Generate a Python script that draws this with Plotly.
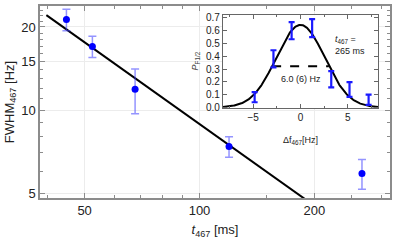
import numpy as np
import plotly.graph_objects as go

# ---- main panel data ----
t_ms = [44.8, 52.4, 67.8, 119.5, 266.5]
fwhm_hz = [21.3, 17.0, 11.9, 7.38, 5.90]
fwhm_err = [1.9, 1.5, 2.2, 0.63, 0.73]

# fitted line (end points)
line_t = [39.7, 190.0]
line_fwhm = [22.07, 4.74]

# ---- inset data ----
df_hz = [-4.85, -2.86, -0.94, 1.23, 3.25, 5.18, 7.2]
p_val = [0.08, 0.38, 0.60, 0.62, 0.22, 0.14, 0.06]
p_err = [0.04, 0.067, 0.067, 0.07, 0.064, 0.058, 0.04]

# Gaussian fit parameters
gauss_amp = 0.645
gauss_center = 0.0
gauss_fwhm = 6.0

x_curve = np.linspace(-8.2, 8.2, 300)
sigma = gauss_fwhm / (2 * np.sqrt(2 * np.log(2)))
y_curve = gauss_amp * np.exp(-(x_curve - gauss_center) ** 2 / (2 * sigma ** 2))

FONT = "Liberation Sans, Arial, sans-serif"
FRAME = "#8c8c8c"

fig = go.Figure()

fig.add_trace(go.Scatter(
    x=line_t, y=line_fwhm, mode="lines",
    line=dict(color="black", width=2), xaxis="x", yaxis="y", showlegend=False))

fig.add_trace(go.Scatter(
    x=t_ms, y=fwhm_hz, mode="markers",
    marker=dict(color="#0000ff", size=7),
    error_y=dict(type="data", array=fwhm_err, color="rgba(60,60,255,0.55)",
                 thickness=1.5, width=4),
    xaxis="x", yaxis="y", showlegend=False))

# inset
fig.add_trace(go.Scatter(
    x=x_curve, y=y_curve, mode="lines",
    line=dict(color="black", width=2), xaxis="x2", yaxis="y2", showlegend=False))

fig.add_trace(go.Scatter(
    x=[-gauss_fwhm / 2, gauss_fwhm / 2], y=[gauss_amp / 2, gauss_amp / 2],
    mode="lines", line=dict(color="black", width=2, dash="dash"),
    xaxis="x2", yaxis="y2", showlegend=False))

fig.add_trace(go.Scatter(
    x=df_hz, y=p_val, mode="markers",
    marker=dict(color="rgba(0,0,0,0)", size=1),
    error_y=dict(type="data", array=p_err, color="#1a1aff",
                 thickness=2.2, width=3),
    xaxis="x2", yaxis="y2", showlegend=False))

main_x_minor = [40, 60, 70, 80, 90, 150, 250, 300]
main_y_minor = [6, 7, 8, 9, 11, 12, 13, 14, 16, 17, 18, 19, 21, 22, 23]

fig.update_layout(
    width=395, height=240,
    margin=dict(l=40, r=3, t=3, b=42),
    paper_bgcolor="white", plot_bgcolor="white",
    font=dict(family=FONT, size=13, color="#222"),
    xaxis=dict(
        type="log", range=[np.log10(38.2), np.log10(315.6)],
        tickmode="array", tickvals=[50, 100, 200], ticktext=["50", "100", "200"],
        ticks="inside", ticklen=5, tickcolor=FRAME, tickwidth=1,
        minor=dict(tickmode="array", tickvals=main_x_minor, ticks="inside",
                   ticklen=3, tickcolor=FRAME, showgrid=False),
        showline=True, linecolor=FRAME, linewidth=1.5, mirror="ticks",
        showgrid=True, gridcolor="#ececec", gridwidth=1, zeroline=False,
        tickfont=dict(size=13),
        title=dict(text="<i>t</i><sub>467</sub> [ms]", font=dict(size=13), standoff=8),
    ),
    yaxis=dict(
        type="log", range=[0.682, 1.377],
        tickmode="array", tickvals=[5, 10, 15, 20], ticktext=["5", "10", "15", "20"],
        ticks="inside", ticklen=5, tickcolor=FRAME, tickwidth=1,
        minor=dict(tickmode="array", tickvals=main_y_minor, ticks="inside",
                   ticklen=3, tickcolor=FRAME, showgrid=False),
        showline=True, linecolor=FRAME, linewidth=1.5, mirror="ticks",
        showgrid=True, gridcolor="#ececec", gridwidth=1, zeroline=False,
        tickfont=dict(size=13),
        title=dict(text="FWHM<sub>467</sub> [Hz]", font=dict(size=13), standoff=4),
    ),
    xaxis2=dict(
        domain=[0.5227, 0.9659], anchor="y2", range=[-8.2, 8.2],
        tickmode="array", tickvals=[-5, 0, 5], ticktext=["\u22125", "0", "5"],
        ticks="inside", ticklen=4, tickcolor="#666",
        minor=dict(tickmode="array", tickvals=[-7.5, -2.5, 2.5, 7.5], ticks="inside",
                   ticklen=2, tickcolor="#666", showgrid=False),
        showline=True, linecolor="#666", linewidth=1, mirror="ticks",
        showgrid=False, zeroline=False,
        tickfont=dict(size=10),
    ),
    yaxis2=dict(
        domain=[0.4667, 0.952], anchor="x2", range=[-0.008, 0.721],
        tickmode="array", tickvals=[0, 0.1, 0.2, 0.3, 0.4, 0.5, 0.6, 0.7],
        ticktext=["0.0", "0.1", "0.2", "0.3", "0.4", "0.5", "0.6", "0.7"],
        ticks="inside", ticklen=4, tickcolor="#666",
        showline=True, linecolor="#666", linewidth=1, mirror="ticks",
        showgrid=False, zeroline=False,
        tickfont=dict(size=10),
    ),
    annotations=[
        dict(text="\u0394f<sub>467</sub>[Hz]", xref="x2", yref="paper",
             x=0, y=(240 - 140 - 42) / 195, xanchor="center", yanchor="middle",
             showarrow=False, font=dict(size=9)),
        dict(text="<i>P</i><sub>F1/2</sub>", xref="paper", yref="y2",
             x=(196 - 40) / 352, y=0.36, textangle=-90, xanchor="center", yanchor="middle",
             showarrow=False, font=dict(size=9, color="#444")),
        dict(text="<i>t</i><sub>467</sub> =<br>265 ms", xref="x2", yref="y2",
             x=3.45, y=0.49, xanchor="left", yanchor="middle", align="left",
             showarrow=False, font=dict(size=9)),
        dict(text="6.0 (6) Hz", xref="x2", yref="y2",
             x=0.0, y=0.22, xanchor="center", yanchor="middle",
             showarrow=False, font=dict(size=9)),
    ],
)

fig.write_html("out.html", config={"displayModeBar": False},
               post_script="document.body.style.margin='0';")
